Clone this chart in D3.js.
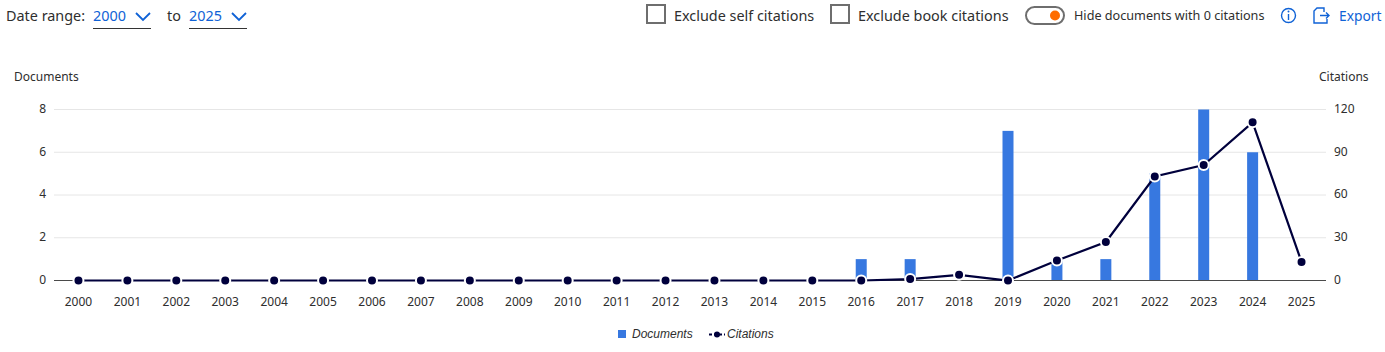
<!DOCTYPE html>
<html>
<head>
<meta charset="utf-8">
<script src="https://cdn.jsdelivr.net/npm/d3@7"></script>
<style>
html, body { margin: 0; padding: 0; background: #fff; overflow: hidden; }
svg { display: block; }
text { font-family: "Noto Sans", sans-serif; fill: #2e2e2e; }
.axis path { display: none; }
.axis text { font-size: 12px; fill: #2e2e2e; }
.top { font-size: 14.4px; }
.blue { fill: #0f62d6; }
</style>
</head>
<body>
<svg id="drawing_region" width="1385" height="352"></svg>
<script>
const years = d3.range(2000, 2026).map(String);
const documents = [0,0,0,0,0,0,0,0,0,0,0,0,0,0,0,0,1,1,0,7,1,1,5,8,6,0];
const citations = [0,0,0,0,0,0,0,0,0,0,0,0,0,0,0,0,0,1,4,0,14,27,73,81,111,13];
const docTicks = [0,2,4,6,8];
const citeTicks = [0,30,60,90,120];
const yearFrom = '2000', yearTo = '2025';

const plotLeft = 54, plotRight = 1326, plotTop = 109.5, plotBottom = 280.5;
const barColor = '#3778e0', lineColor = '#00003c', blue = '#0f62d6';

const svg = d3.select('#drawing_region');

const x = d3.scaleBand().domain(years).range([plotLeft, plotRight]);
const yDoc = d3.scaleLinear().domain([0, 8]).range([plotBottom, plotTop]);
const yCite = d3.scaleLinear().domain([0, 120]).range([plotBottom, plotTop]);
const cx = d => x(d) + x.bandwidth() / 2;

// grid
svg.append('g').selectAll('line').data(docTicks.slice(1)).enter().append('line')
    .attr('x1', plotLeft).attr('x2', plotRight)
    .attr('y1', d => yDoc(d)).attr('y2', d => yDoc(d))
    .attr('stroke', '#e6e6e6').attr('stroke-width', 1);

// bars
const barWidth = 11;
svg.append('g').selectAll('rect').data(years).enter()
    .filter((d, i) => documents[i] > 0)
    .append('rect')
    .attr('x', d => cx(d) - barWidth / 2)
    .attr('width', barWidth)
    .attr('y', d => yDoc(documents[years.indexOf(d)]))
    .attr('height', d => plotBottom - yDoc(documents[years.indexOf(d)]))
    .attr('fill', barColor);

// axes
const xAxis = svg.append('g').attr('class', 'axis')
    .attr('transform', `translate(0,${plotBottom})`)
    .call(d3.axisBottom(x).tickSize(0).tickPadding(17));
xAxis.append('line').attr('x1', plotLeft).attr('x2', plotRight)
    .attr('stroke', '#4a4a4a').attr('stroke-width', 1);

svg.append('g').attr('class', 'axis')
    .attr('transform', `translate(${plotLeft - 8},-1)`)
    .call(d3.axisLeft(yDoc).tickValues(docTicks).tickSize(0).tickPadding(0));

svg.append('g').attr('class', 'axis')
    .attr('transform', `translate(${plotRight + 8},-1)`)
    .call(d3.axisRight(yCite).tickValues(citeTicks).tickSize(0).tickPadding(0));

svg.append('text').attr('x', 14).attr('y', 81).style('font-size', '12px').text('Documents');
svg.append('text').attr('x', 1319).attr('y', 81).style('font-size', '12px').text('Citations');

// citations line
const line = d3.line().x((d, i) => cx(years[i])).y(d => yCite(d));
svg.append('path').datum(citations)
    .attr('d', line)
    .attr('fill', 'none')
    .attr('stroke', lineColor)
    .attr('stroke-width', 2.2);

svg.append('g').selectAll('circle').data(citations).enter().append('circle')
    .attr('cx', (d, i) => cx(years[i]))
    .attr('cy', d => yCite(d))
    .attr('r', 5)
    .attr('fill', lineColor)
    .attr('stroke', '#fff')
    .attr('stroke-width', 2);

// legend
const legend = svg.append('g');
legend.append('rect').attr('x', 618).attr('y', 330).attr('width', 8).attr('height', 8).attr('fill', barColor);
legend.append('text').attr('x', 632).attr('y', 338)
    .style('font-family', '"Liberation Sans", Arial, sans-serif')
    .style('font-style', 'italic').style('font-size', '12px').text('Documents');
legend.append('line').attr('x1', 709).attr('x2', 725).attr('y1', 334.5).attr('y2', 334.5)
    .attr('stroke', lineColor).attr('stroke-width', 2).attr('stroke-dasharray', '3 2');
legend.append('circle').attr('cx', 717).attr('cy', 334.5).attr('r', 3).attr('fill', lineColor);
legend.append('text').attr('x', 727).attr('y', 338)
    .style('font-family', '"Liberation Sans", Arial, sans-serif')
    .style('font-style', 'italic').style('font-size', '12px').text('Citations');

// header controls
const head = svg.append('g');
head.append('text').attr('class', 'top').attr('x', 6).attr('y', 21).text('Date range:');
head.append('text').attr('class', 'top').attr('x', 167).attr('y', 21).text('to');

function dropdown(px, label) {
    head.append('text').attr('class', 'top blue').attr('x', px).attr('y', 21).text(label);
    head.append('path')
        .attr('d', `M${px + 43},13 l7,7 l7,-7`)
        .attr('fill', 'none').attr('stroke', blue).attr('stroke-width', 1.8);
    head.append('line').attr('x1', px).attr('x2', px + 58).attr('y1', 28.5).attr('y2', 28.5)
        .attr('stroke', '#333').attr('stroke-width', 1);
}
dropdown(93, yearFrom);
dropdown(189, yearTo);

function checkbox(px, label) {
    head.append('rect').attr('x', px).attr('y', 5).attr('width', 18).attr('height', 18)
        .attr('fill', '#fff').attr('stroke', '#6e6e6e').attr('stroke-width', 2);
    head.append('text').attr('class', 'top').attr('x', px + 27).attr('y', 21).text(label);
}
checkbox(647, 'Exclude self citations');
checkbox(831, 'Exclude book citations');

head.append('rect').attr('x', 1026).attr('y', 7).attr('width', 38).attr('height', 17).attr('rx', 8.5)
    .attr('fill', '#fff').attr('stroke', '#6e6e6e').attr('stroke-width', 2);
head.append('circle').attr('cx', 1055).attr('cy', 15.5).attr('r', 5).attr('fill', '#ff6c00');
head.append('text').attr('x', 1074).attr('y', 20).style('font-size', '12.65px').text('Hide documents with 0 citations');

head.append('circle').attr('cx', 1288.5).attr('cy', 15.5).attr('r', 7).attr('fill', 'none')
    .attr('stroke', blue).attr('stroke-width', 1.4);
head.append('line').attr('x1', 1288.5).attr('x2', 1288.5).attr('y1', 14).attr('y2', 20)
    .attr('stroke', blue).attr('stroke-width', 1.4);
head.append('circle').attr('cx', 1288.5).attr('cy', 11.5).attr('r', 1).attr('fill', blue);

head.append('path')
    .attr('d', 'M1324,12 V8 H1317 L1314,11 V23 H1327 V19 M1320,15.5 H1329 M1326,12.5 L1329,15.5 L1326,18.5')
    .attr('fill', 'none').attr('stroke', blue).attr('stroke-width', 1.4);
head.append('text').attr('class', 'top blue').attr('x', 1339).attr('y', 21).style('font-size', '13.8px').text('Export');
</script>
</body>
</html>
